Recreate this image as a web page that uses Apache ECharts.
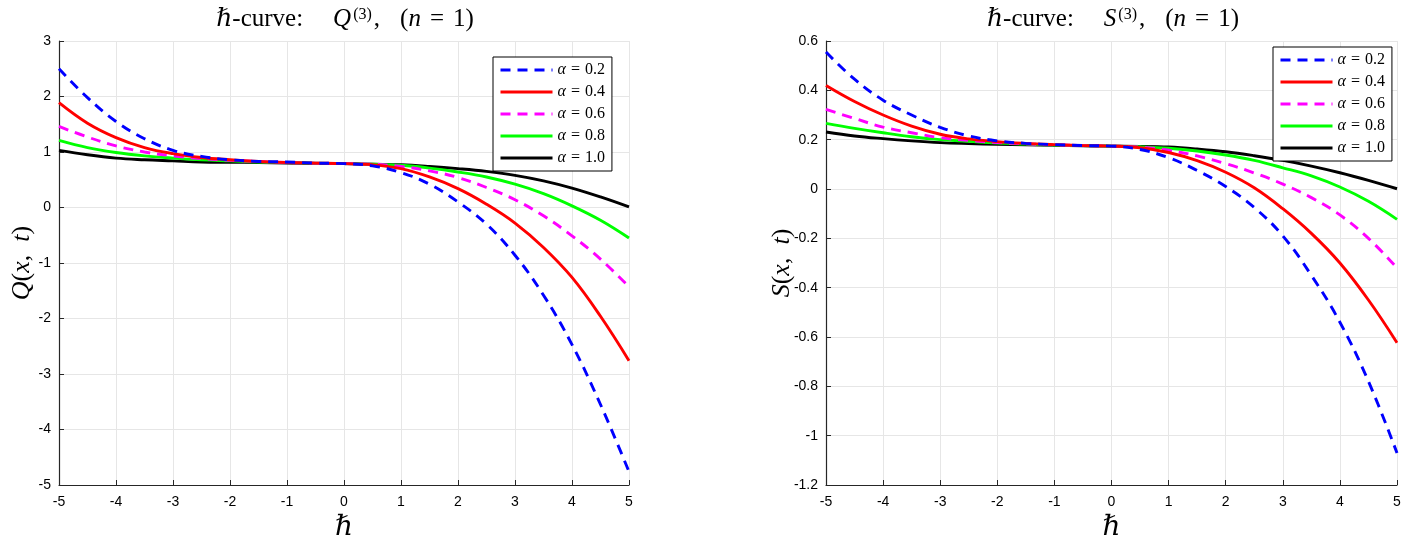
<!DOCTYPE html>
<html>
<head>
<meta charset="utf-8">
<script src="https://cdn.jsdelivr.net/npm/echarts@6/dist/echarts.min.js"></script>
<style>
html,body{margin:0;padding:0;background:#fff;}
#chart{width:1401px;height:540px;}
</style>
</head>
<body>
<div id="chart"></div>
<script>
const hValues = [-5,-4.5,-4,-3.5,-3,-2.5,-2,-1.5,-1,-0.5,0,0.5,1,1.5,2,2.5,3,3.5,4,4.5,5];

const alphaLabels = ['0.2','0.4','0.6','0.8','1.0'];

const qAlpha02 = [2.50,1.98,1.55,1.24,1.03,0.92,0.86,0.83,0.82,0.80,0.79,0.75,0.63,0.42,0.10,-0.30,-0.86,-1.58,-2.47,-3.55,-4.76];
const qAlpha04 = [1.89,1.52,1.26,1.08,0.97,0.90,0.86,0.83,0.81,0.80,0.79,0.77,0.70,0.55,0.34,0.06,-0.28,-0.72,-1.26,-1.96,-2.76];
const qAlpha06 = [1.46,1.27,1.11,1.00,0.93,0.88,0.85,0.83,0.81,0.80,0.79,0.78,0.74,0.66,0.54,0.36,0.14,-0.15,-0.51,-0.93,-1.43];
const qAlpha08 = [1.21,1.08,0.99,0.93,0.89,0.86,0.84,0.82,0.81,0.80,0.79,0.78,0.76,0.71,0.64,0.55,0.42,0.25,0.03,-0.23,-0.55];
const qAlpha10 = [1.03,0.95,0.89,0.86,0.84,0.82,0.815,0.81,0.80,0.795,0.79,0.78,0.77,0.74,0.70,0.65,0.58,0.48,0.35,0.19,0.01];

const sAlpha02 = [0.555,0.445,0.36,0.30,0.25,0.215,0.195,0.185,0.18,0.176,0.174,0.16,0.127,0.075,0.01,-0.075,-0.19,-0.35,-0.54,-0.78,-1.07];
const sAlpha04 = [0.42,0.355,0.30,0.255,0.222,0.203,0.192,0.185,0.18,0.176,0.174,0.167,0.148,0.115,0.068,0.005,-0.08,-0.18,-0.30,-0.45,-0.623];
const sAlpha06 = [0.323,0.286,0.251,0.228,0.208,0.197,0.188,0.183,0.179,0.176,0.174,0.17,0.157,0.134,0.103,0.065,0.02,-0.035,-0.105,-0.20,-0.32];
const sAlpha08 = [0.266,0.246,0.228,0.212,0.20,0.193,0.186,0.182,0.178,0.176,0.174,0.171,0.165,0.154,0.138,0.116,0.086,0.053,0.008,-0.05,-0.123];
const sAlpha10 = [0.231,0.215,0.204,0.195,0.188,0.184,0.181,0.179,0.177,0.175,0.174,0.173,0.17,0.162,0.151,0.135,0.116,0.093,0.066,0.035,0.001];

const qSeries = [qAlpha02,qAlpha04,qAlpha06,qAlpha08,qAlpha10];
const sSeries = [sAlpha02,sAlpha04,sAlpha06,sAlpha08,sAlpha10];
const colors = ['#0000ff','#ff0000','#ff00ff','#00ff00','#000000'];
const dashed = [true,false,true,false,false];

const serif = '"Liberation Serif","DejaVu Serif",serif';
const sans = '"Liberation Sans",Arial,sans-serif';
const names = alphaLabels.map(a => 'α = ' + a);

function zip(vals){ return hValues.map((h,i)=>[h, vals[i]]); }

function makeSeries(arrs, gi){
  return arrs.map((vals,k)=>({
    name: names[k],
    type: 'line',
    xAxisIndex: gi, yAxisIndex: gi,
    data: zip(vals),
    smooth: 0.4,
    symbol: 'none',
    z: 10 - k,
    lineStyle: {color: colors[k], width: 2.9, type: dashed[k] ? [10,7] : 'solid'},
    itemStyle: {color: colors[k]}
  }));
}

const titleRich = {
  t: {fontFamily: serif, fontSize: 25, fontWeight: 'normal', color: '#000'},
  i: {fontFamily: serif, fontSize: 25, fontWeight: 'normal', fontStyle: 'italic', color: '#000'},
  e: {fontFamily: serif, fontSize: 25, fontWeight: 'normal', color: '#000', padding: [0, 9, 0, 9]},
  w1: {width: 30, fontSize: 25},
  w2: {width: 20, fontSize: 25},
  sup: {fontFamily: serif, fontSize: 16, fontWeight: 'normal', color: '#000', verticalAlign: 'top', lineHeight: 16, padding: [0, 2, 0, 2]}
};
const nameRich = {
  t: {fontFamily: serif, fontSize: 26, color: '#000'},
  i: {fontFamily: serif, fontSize: 26, fontStyle: 'italic', color: '#000'}
};

function xAxisCfg(gi){
  return {
    gridIndex: gi, type: 'value', min: -5, max: 5, interval: 1,
    name: '{i|ℏ}', nameLocation: 'middle', nameGap: 27,
    nameTextStyle: {rich: {i: {fontFamily: serif, fontSize: 28, fontStyle: 'italic', color: '#000'}}},
    axisLine: {onZero: false, lineStyle: {color: '#262626', width: 1.2}},
    axisTick: {inside: true, length: 5, lineStyle: {color: '#262626'}},
    axisLabel: {color: '#000', fontFamily: sans, fontSize: 14, margin: 10},
    splitLine: {show: true, lineStyle: {color: '#e6e6e6', width: 1}}
  };
}
function yAxisCfg(gi, min, max, interval, nm, gap){
  return {
    gridIndex: gi, type: 'value', min: min, max: max, interval: interval,
    name: nm, nameLocation: 'middle', nameGap: gap, nameMoveOverlap: false,
    nameTextStyle: {rich: nameRich},
    axisLine: {show: true, onZero: false, lineStyle: {color: '#262626', width: 1.2}},
    axisTick: {show: true, inside: true, length: 5, lineStyle: {color: '#262626'}},
    axisLabel: {color: '#000', fontFamily: sans, fontSize: 14, margin: 8},
    splitLine: {show: true, lineStyle: {color: '#e6e6e6', width: 1}}
  };
}
function legendCfg(left, top){
  return {
    data: names, orient: 'vertical', left: left, top: top,
    itemWidth: 52, itemHeight: 14, itemGap: 6,
    padding: [5, 7, 5, 6],
    backgroundColor: '#fff', borderColor: '#000', borderWidth: 1,
    itemStyle: {opacity: 0},
    lineStyle: {width: 3},
    formatter: function(n){ return '{i|α}{t|=}' + n.split('= ')[1]; },
    textStyle: {fontFamily: serif, fontSize: 16, color: '#000', lineHeight: 14,
      rich: {
        i: {fontFamily: serif, fontSize: 16, fontStyle: 'italic', color: '#000', lineHeight: 14},
        t: {fontFamily: serif, fontSize: 16, color: '#000', padding: [0, 5, 0, 5], lineHeight: 14}
      }},
    inactiveColor: '#ccc',
    z: 20
  };
}

const chart = echarts.init(document.getElementById('chart'));
chart.setOption({
  animation: false,
  backgroundColor: '#fff',
  title: [
    {text: '{i|ℏ}{t|-curve:}{w1| }{i|Q}{sup|(3)}{t|,}{w2| }{t|(}{i|n}{e|=}{t|1)}', left: 340, top: 2, textAlign: 'center',
     textStyle: {rich: titleRich}},
    {text: '{i|ℏ}{t|-curve:}{w1| }{i|S}{sup|(3)}{t|,}{w2| }{t|(}{i|n}{e|=}{t|1)}', left: 1108, top: 2, textAlign: 'center',
     textStyle: {rich: titleRich}}
  ],
  legend: [legendCfg(493, 57), legendCfg(1273, 47)],
  grid: [
    {left: 59, right: 772, top: 41, bottom: 55, outerBoundsMode: 'none', containLabel: false},
    {left: 826, right: 4, top: 41, bottom: 55, outerBoundsMode: 'none', containLabel: false}
  ],
  xAxis: [xAxisCfg(0), xAxisCfg(1)],
  yAxis: [
    yAxisCfg(0, -5, 3, 1, '{i|Q}{t|(}{i|x}{t|,  }{i|t}{t|)}', 24),
    yAxisCfg(1, -1.2, 0.6, 0.2, '{i|S}{t|(}{i|x}{t|,  }{i|t}{t|)}', 31)
  ],
  series: makeSeries(qSeries, 0).concat(makeSeries(sSeries, 1))
});
</script>
</body>
</html>
